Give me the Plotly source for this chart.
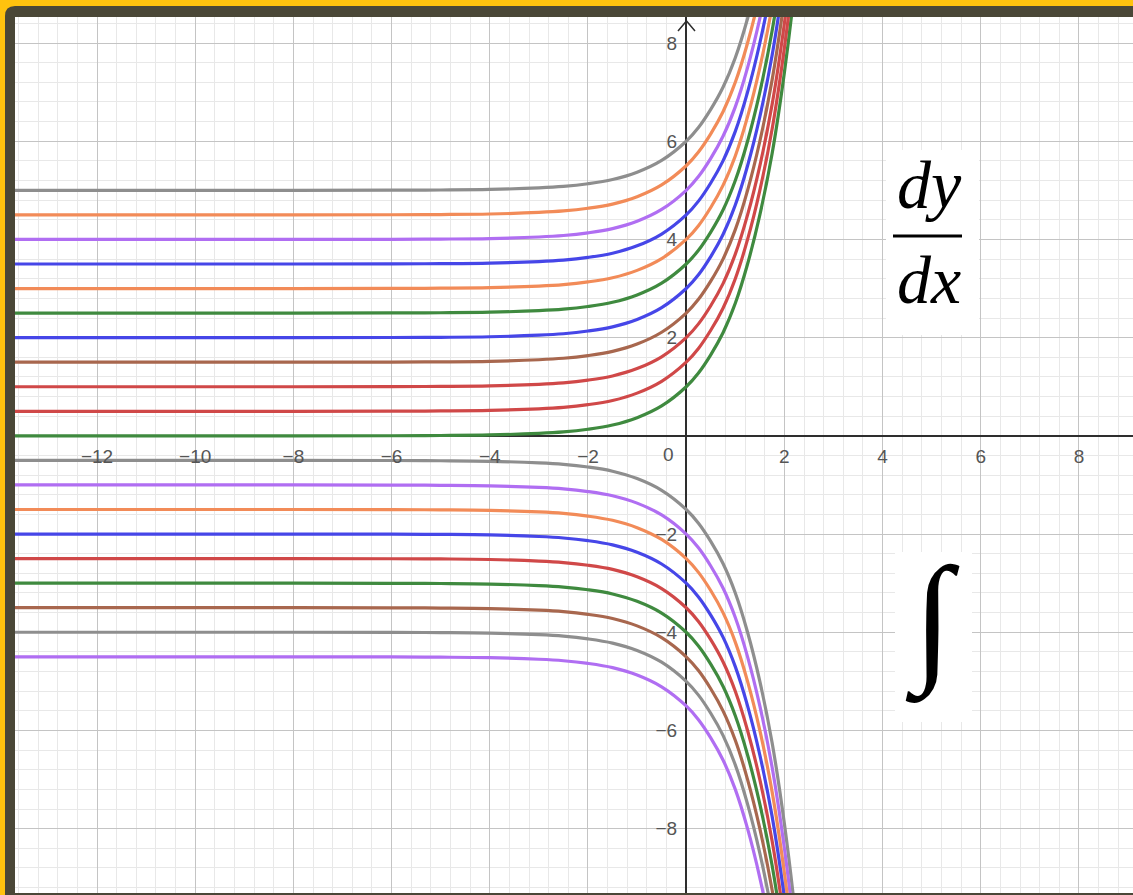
import plotly.graph_objects as go

W, H = 1133, 895

# Shape of the exponential curves (level 0)
shape_x = [-14, -8, -6, -5, -4, -3, -2.5, -2, -1.5, -1, -0.5, 0, 0.25, 0.5, 0.75,
           1, 1.25, 1.5, 1.75, 2, 2.25, 2.5]
shape_y = [0, 0, 0.0025, 0.007, 0.018, 0.05, 0.08, 0.135, 0.22, 0.37, 0.61, 1.0, 1.28,
           1.65, 2.1, 2.7, 3.5, 4.5, 5.75, 7.4, 9.5, 12.2]

GRAY, ORANGE, PURPLE, BLUE = "#8e8e8e", "#f28b58", "#b06ef2", "#4646e8"
GREEN, BROWN, RED = "#3f8a3f", "#a8674e", "#d04848"

# Rising family (asymptote levels read from the left side)
top_levels = [5, 4.5, 4, 3.5, 3, 2.5, 2, 1.5, 1, 0.5, 0]
top_colors = [GRAY, ORANGE, PURPLE, BLUE, ORANGE, GREEN, BLUE, BROWN, RED, RED, GREEN]
# Falling family
bottom_levels = [-0.5, -1, -1.5, -2, -2.5, -3, -3.5, -4, -4.5]
bottom_colors = [GRAY, PURPLE, ORANGE, BLUE, RED, GREEN, BROWN, GRAY, PURPLE]

x_range = [-13.67, 9.10]
y_range = [-9.31, 8.53]

fig = go.Figure()
for c, col in list(zip(top_levels, top_colors))[::-1]:
    fig.add_trace(go.Scatter(x=shape_x, y=[c + v for v in shape_y], mode="lines",
                             line=dict(color=col, width=3.2, shape="spline"),
                             hoverinfo="skip", showlegend=False))
for c, col in zip(bottom_levels, bottom_colors):
    fig.add_trace(go.Scatter(x=shape_x, y=[c - v for v in shape_y], mode="lines",
                             line=dict(color=col, width=3.2, shape="spline"),
                             hoverinfo="skip", showlegend=False))

xd = [15 / W, 1.0]
yd = [2 / H, 1 - 17 / H]
x_axis_pos = yd[0] + (0 - y_range[0]) / (y_range[1] - y_range[0]) * (yd[1] - yd[0])
y_axis_pos = xd[0] + (0 - x_range[0]) / (x_range[1] - x_range[0]) * (xd[1] - xd[0])

tickfont = dict(family="Liberation Sans, Arial, sans-serif", size=19, color="#555555")
common = dict(dtick=2, tick0=0, showgrid=True, gridcolor="#c4c4c4", gridwidth=1,
              minor=dict(dtick=0.4, tick0=0, showgrid=True, gridcolor="#e8e8e8", gridwidth=1),
              zeroline=True, zerolinecolor="#2e2e2e", zerolinewidth=1.5,
              ticks="", showline=False, tickfont=tickfont, labelalias={"0": " "},
              fixedrange=True)

fig.update_layout(
    width=W, height=H, autosize=False,
    margin=dict(l=0, r=0, t=0, b=0),
    paper_bgcolor="#4a4737", plot_bgcolor="white",
    xaxis=dict(range=x_range, domain=xd, anchor="free", position=x_axis_pos,
               side="bottom", ticklabelstandoff=7, **common),
    yaxis=dict(range=y_range, domain=yd, anchor="free", position=y_axis_pos,
               side="left", ticklabelstandoff=9, **common),
)

def px(xp):
    return xp / W

def py(yp):
    return 1 - yp / H

YELLOW = "#ffc20e"
# yellow outer border (top and left), rounded inner corner
fig.add_shape(type="rect", xref="paper", yref="paper", x0=0, x1=1, y0=py(6), y1=1,
              fillcolor=YELLOW, line=dict(width=0), layer="above")
fig.add_shape(type="rect", xref="paper", yref="paper", x0=0, x1=px(5), y0=0, y1=1,
              fillcolor=YELLOW, line=dict(width=0), layer="above")
r = 10
fig.add_shape(type="path", xref="paper", yref="paper",
              path=(f"M {px(5)},{py(6 + r)} Q {px(5)},{py(6)} {px(5 + r)},{py(6)} "
                    f"L {px(4)},{py(5)} Z"),
              fillcolor=YELLOW, line=dict(width=0), layer="above")

# white boxes behind the symbols
fig.add_shape(type="rect", xref="paper", yref="paper", x0=px(886), x1=px(979),
              y0=py(335), y1=py(150), fillcolor="white", line=dict(width=0), layer="above")
fig.add_shape(type="rect", xref="paper", yref="paper", x0=px(895), x1=px(972),
              y0=py(722), y1=py(552), fillcolor="white", line=dict(width=0), layer="above")
# fraction bar
fig.add_shape(type="line", xref="paper", yref="paper", x0=px(893), x1=px(962),
              y0=py(236), y1=py(236), line=dict(color="black", width=3), layer="above")
# arrow head of the y axis
fig.add_shape(type="path", xref="paper", yref="paper",
              path=f"M {px(678)},{py(31)} L {px(686.5)},{py(21)} L {px(695)},{py(31)}",
              line=dict(color="#2e2e2e", width=1.5), layer="above")

serif = "Liberation Serif, Times New Roman, serif"
fig.add_annotation(x=px(929), y=py(185), xref="paper", yref="paper", text="<i>dy</i>",
                   xanchor="center", yanchor="middle", showarrow=False,
                   font=dict(family=serif, size=68, color="black"))
fig.add_annotation(x=px(929), y=py(280), xref="paper", yref="paper", text="<i>dx</i>",
                   xanchor="center", yanchor="middle", showarrow=False,
                   font=dict(family=serif, size=68, color="black"))
fig.add_annotation(x=px(932), y=py(621), xref="paper", yref="paper", text="∫",
                   xanchor="center", yanchor="middle", showarrow=False,
                   font=dict(family="Liberation Serif, serif", size=142, color="black"))
# origin label
fig.add_annotation(x=0, y=0, xref="x", yref="y", text="0", showarrow=False,
                   xanchor="center", yanchor="middle",
                   xshift=-18, yshift=-19, font=tickfont)

fig.write_html("out.html", config={"displayModeBar": False},
               post_script="document.body.style.margin='0';")
